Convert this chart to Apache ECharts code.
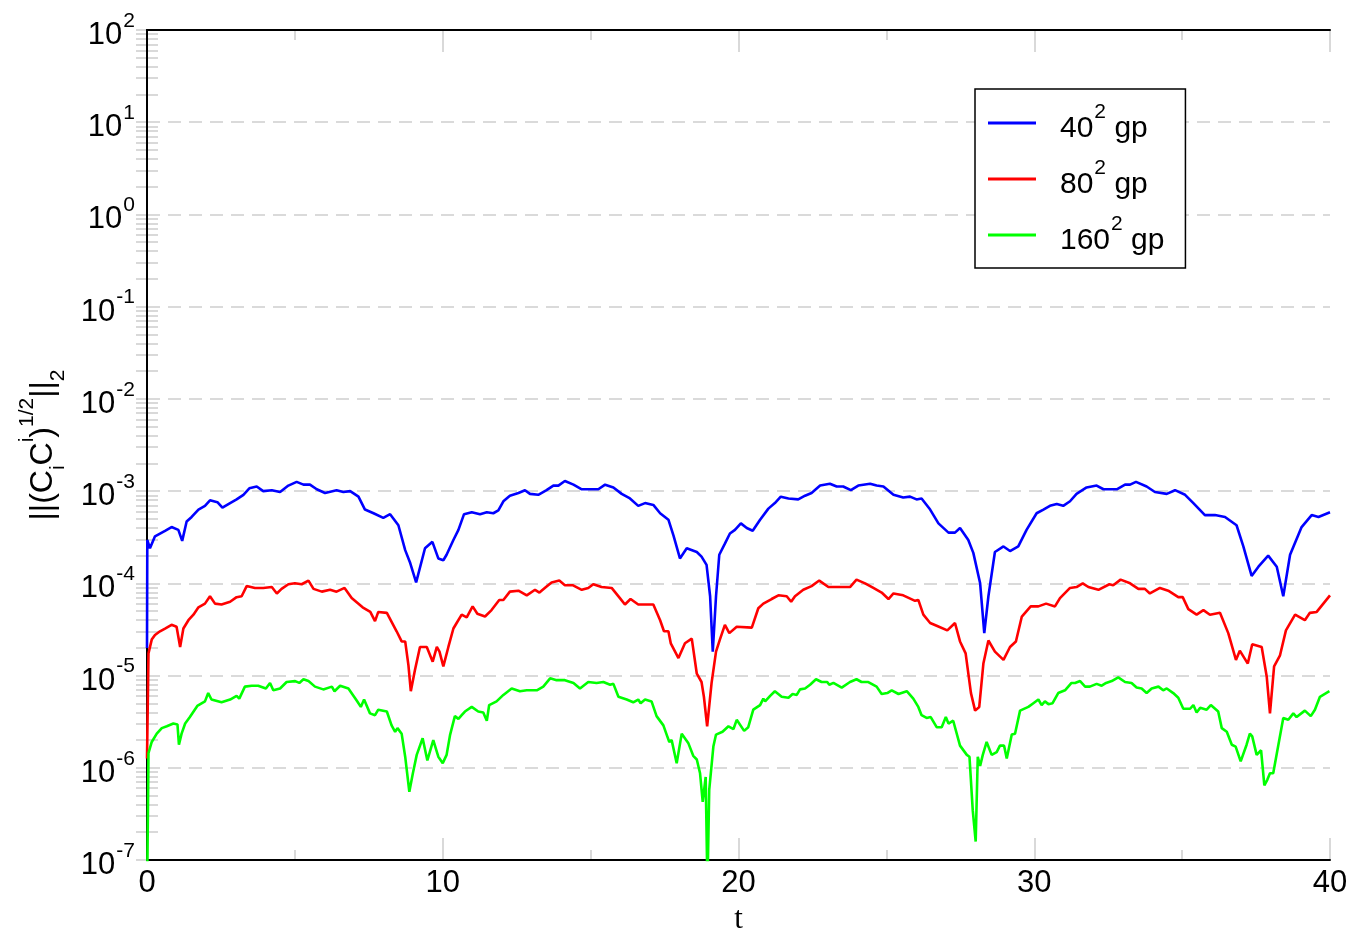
<!DOCTYPE html>
<html>
<head>
<meta charset="utf-8">
<script src="https://cdn.jsdelivr.net/npm/echarts@6/dist/echarts.min.js"></script>
<style>
html,body{margin:0;padding:0;background:#fff;}
#chart{width:1354px;height:928px;}
</style>
</head>
<body>
<div id="chart"></div>
<script>
// ---- data (t values and log10 of the norm) ----
const tBlue = [0,0.01,0.1,0.27,0.44,0.61,0.83,1.06,1.19,1.34,1.51,1.74,1.96,2.13,2.38,2.55,2.81,3.03,3.26,3.46,3.71,3.93,4.22,4.50,4.78,5.06,5.29,5.51,5.74,6.02,6.41,6.64,6.87,7.15,7.37,7.66,7.99,8.22,8.50,8.73,8.90,9.10,9.40,9.65,9.85,10.02,
10.13,10.36,10.53,10.72,10.98,11.26,11.49,11.71,11.88,12.05,12.27,12.56,12.78,12.95,13.23,13.51,13.74,13.91,14.13,14.42,14.70,14.98,15.26,15.49,15.77,16.05,16.33,16.61,16.84,17.12,17.35,17.63,17.80,18.02,18.25,18.59,18.75,18.92,19.04,19.13,19.24,19.35,19.54,19.71,19.88,20.08,20.28,20.48,20.73,
21.01,21.23,21.43,21.69,22.02,22.25,22.47,22.76,23.09,23.32,23.54,23.80,24.05,24.45,24.67,24.90,25.24,25.57,25.80,26.02,26.19,26.48,26.76,27.10,27.32,27.49,27.77,27.94,28.17,28.31,28.45,28.67,28.96,29.18,29.46,29.74,
30.08,30.31,30.53,30.76,30.98,31.21,31.43,31.77,32.11,32.34,32.79,33.07,33.24,33.44,33.80,34.08,34.48,34.76,35.10,35.38,35.77,36.11,36.45,36.84,37.07,37.35,37.58,37.91,38.20,38.42,38.65,39.04,39.38,39.61,40.00];
const blueExp = [-4.70,-3.53,-3.62,-3.49,-3.46,-3.43,-3.39,-3.42,-3.54,-3.33,-3.28,-3.20,-3.16,-3.10,-3.12,-3.18,-3.13,-3.09,-3.04,-2.97,-2.95,-3.00,-2.99,-3.01,-2.94,-2.90,-2.93,-2.93,-2.98,-3.02,-2.99,-3.01,-3.00,-3.06,-3.20,-3.24,-3.29,-3.25,-3.37,-3.64,-3.78,-3.99,-3.62,-3.55,-3.73,-3.75,
-3.69,-3.53,-3.42,-3.25,-3.23,-3.25,-3.23,-3.24,-3.21,-3.11,-3.05,-3.02,-2.99,-3.03,-3.04,-2.99,-2.94,-2.94,-2.89,-2.93,-2.98,-2.98,-2.98,-2.93,-2.96,-3.03,-3.08,-3.16,-3.13,-3.15,-3.24,-3.31,-3.48,-3.73,-3.62,-3.66,-3.71,-3.80,-4.14,-4.74,-4.14,-3.69,-3.57,-3.46,-3.42,-3.35,-3.40,-3.43,-3.31,
-3.19,-3.13,-3.06,-3.08,-3.09,-3.05,-3.02,-2.94,-2.92,-2.95,-2.95,-2.99,-2.94,-2.92,-2.94,-2.95,-3.04,-3.07,-3.06,-3.09,-3.08,-3.20,-3.35,-3.45,-3.45,-3.40,-3.53,-3.67,-4.00,-4.54,-4.14,-3.66,-3.60,-3.65,-3.60,-3.42,
-3.24,-3.20,-3.16,-3.14,-3.16,-3.11,-3.03,-2.96,-2.94,-2.98,-2.98,-2.93,-2.93,-2.90,-2.95,-3.01,-3.03,-2.99,-3.04,-3.13,-3.26,-3.26,-3.28,-3.37,-3.60,-3.92,-3.82,-3.70,-3.82,-4.14,-3.69,-3.39,-3.26,-3.28,-3.23];

const tRed = [0,0.05,0.16,0.27,0.44,0.61,0.83,1.00,1.12,1.23,1.40,1.57,1.74,1.96,2.13,2.30,2.52,2.81,3.03,3.20,3.37,3.65,3.93,4.22,4.39,4.55,4.78,5.00,5.23,5.46,5.63,5.91,6.19,6.41,6.68,6.92,7.29,7.55,7.71,7.82,8.11,8.44,8.61,8.73,8.84,8.92,9.06,9.23,9.46,9.66,9.80,9.89,10.02,10.19,10.36,10.47,10.64,10.81,11.01,11.17,11.43,11.65,11.91,12.05,12.27,12.56,12.84,13.12,13.27,13.49,13.68,13.94,14.13,14.39,14.70,14.92,15.09,15.37,15.71,15.99,16.16,16.35,16.61,17.12,17.35,17.48,17.63,17.71,17.97,18.19,18.42,18.59,18.75,18.83,18.94,19.09,19.24,19.37,19.54,19.69,19.94,20.45,20.67,20.84,21.12,21.35,21.63,21.78,21.91,22.19,22.47,22.73,23.04,23.43,23.77,23.99,24.28,24.56,24.84,25.07,25.24,25.57,25.97,26.08,26.25,26.48,26.70,27.06,27.32,27.49,27.68,27.86,28.00,28.14,28.28,28.45,28.67,28.96,29.18,29.38,29.58,29.88,30.14,30.40,30.70,30.87,31.21,31.43,31.64,31.83,32.17,32.54,32.67,32.92,33.24,33.52,33.74,33.91,34.25,34.53,34.87,35.02,35.21,35.49,35.72,35.94,36.28,36.56,36.82,36.95,37.22,37.37,37.69,37.86,37.97,38.11,38.31,38.51,38.82,39.15,39.32,39.55,40.00];
const redExp = [-5.90,-4.76,-4.61,-4.56,-4.52,-4.49,-4.45,-4.47,-4.69,-4.49,-4.40,-4.34,-4.26,-4.22,-4.14,-4.22,-4.23,-4.20,-4.15,-4.14,-4.03,-4.05,-4.05,-4.04,-4.11,-4.06,-4.01,-4.00,-4.01,-3.97,-4.06,-4.09,-4.07,-4.09,-4.05,-4.16,-4.26,-4.31,-4.41,-4.31,-4.32,-4.52,-4.63,-4.63,-4.89,-5.17,-4.94,-4.69,-4.69,-4.85,-4.69,-4.74,-4.90,-4.69,-4.49,-4.43,-4.34,-4.37,-4.25,-4.33,-4.36,-4.29,-4.18,-4.18,-4.09,-4.08,-4.13,-4.07,-4.10,-4.04,-3.99,-3.97,-4.02,-4.02,-4.07,-4.05,-4.01,-4.04,-4.05,-4.16,-4.23,-4.17,-4.23,-4.23,-4.40,-4.52,-4.52,-4.65,-4.81,-4.65,-4.60,-4.98,-5.07,-5.23,-5.55,-5.08,-4.74,-4.61,-4.45,-4.54,-4.47,-4.48,-4.27,-4.22,-4.17,-4.13,-4.14,-4.20,-4.14,-4.07,-4.03,-3.97,-4.04,-4.04,-4.04,-3.96,-4.00,-4.05,-4.10,-4.17,-4.11,-4.13,-4.19,-4.18,-4.34,-4.43,-4.46,-4.51,-4.43,-4.63,-4.76,-5.19,-5.38,-5.34,-4.87,-4.62,-4.74,-4.83,-4.69,-4.63,-4.36,-4.25,-4.25,-4.22,-4.25,-4.16,-4.05,-4.04,-4.00,-4.04,-4.07,-4.01,-4.02,-3.96,-4.00,-4.06,-4.06,-4.11,-4.05,-4.08,-4.15,-4.15,-4.28,-4.34,-4.29,-4.34,-4.32,-4.54,-4.83,-4.73,-4.87,-4.66,-4.69,-5.01,-5.41,-4.90,-4.78,-4.51,-4.34,-4.40,-4.32,-4.31,-4.13];

const tGreen = [0,0.05,0.16,0.33,0.50,0.67,0.89,1.03,1.08,1.17,1.29,1.45,1.70,1.96,2.07,2.18,2.52,2.81,3.03,3.12,3.31,3.54,3.76,4.02,4.16,4.27,4.50,4.72,5.01,5.15,5.29,5.46,5.68,5.96,6.25,6.34,6.53,6.81,7.09,7.23,7.34,7.54,7.71,7.82,8.11,8.27,8.39,8.47,8.61,8.73,8.87,8.99,9.12,9.32,9.48,9.68,9.85,10.00,10.13,10.25,10.41,10.53,10.64,10.75,10.98,11.20,11.37,11.49,11.57,11.82,12.05,12.33,12.61,12.84,13.18,13.40,13.63,13.85,14.13,14.42,14.64,14.92,15.20,15.43,15.66,15.77,15.94,16.22,16.44,16.61,16.69,16.84,17.06,17.23,17.46,17.57,17.66,17.74,17.91,18.08,18.30,18.47,18.59,18.70,18.79,18.89,18.95,19.01,19.15,19.24,19.46,19.66,19.83,19.94,20.19,20.33,20.50,20.73,20.84,20.90,21.07,21.23,21.46,21.69,21.83,21.97,22.08,22.25,22.42,22.62,22.81,23.00,23.07,23.21,23.49,23.77,23.99,24.16,24.39,24.67,24.84,25.03,25.18,25.41,25.69,25.91,26.08,26.19,26.36,26.50,26.70,26.87,27.01,27.10,27.26,27.49,27.72,27.81,27.92,28.02,28.09,28.17,28.26,28.39,28.56,28.73,28.84,28.98,29.07,29.24,29.35,29.52,29.80,29.97,30.14,30.25,30.36,30.48,30.62,30.81,31.04,31.26,31.38,31.55,31.72,31.88,32.11,32.28,32.43,32.62,32.84,33.07,33.29,33.46,33.63,33.80,33.97,34.20,34.36,34.48,34.70,34.87,35.04,35.27,35.38,35.49,35.61,35.83,35.97,36.22,36.34,36.51,36.68,36.81,36.98,37.18,37.29,37.37,37.52,37.67,37.78,37.88,37.97,38.08,38.42,38.59,38.76,38.87,39.15,39.35,39.49,39.66,39.98];
const greenExp = [-7.50,-5.84,-5.72,-5.63,-5.57,-5.55,-5.52,-5.53,-5.75,-5.63,-5.52,-5.45,-5.33,-5.28,-5.19,-5.26,-5.29,-5.26,-5.22,-5.25,-5.12,-5.11,-5.11,-5.14,-5.08,-5.16,-5.14,-5.07,-5.06,-5.08,-5.04,-5.06,-5.12,-5.15,-5.12,-5.17,-5.11,-5.14,-5.27,-5.34,-5.26,-5.41,-5.43,-5.37,-5.39,-5.54,-5.61,-5.57,-5.63,-5.88,-6.26,-6.06,-5.86,-5.68,-5.92,-5.70,-5.88,-5.95,-5.86,-5.64,-5.44,-5.47,-5.43,-5.39,-5.34,-5.39,-5.40,-5.49,-5.32,-5.28,-5.21,-5.14,-5.17,-5.16,-5.16,-5.12,-5.03,-5.05,-5.05,-5.08,-5.14,-5.07,-5.08,-5.07,-5.10,-5.09,-5.23,-5.26,-5.29,-5.26,-5.30,-5.26,-5.28,-5.44,-5.54,-5.64,-5.72,-5.70,-5.95,-5.63,-5.73,-5.87,-5.91,-6.06,-6.37,-6.10,-7.30,-6.24,-5.77,-5.64,-5.61,-5.55,-5.58,-5.48,-5.60,-5.56,-5.37,-5.32,-5.25,-5.28,-5.22,-5.17,-5.23,-5.24,-5.20,-5.21,-5.15,-5.14,-5.10,-5.04,-5.07,-5.07,-5.10,-5.08,-5.13,-5.07,-5.04,-5.07,-5.07,-5.12,-5.20,-5.19,-5.16,-5.20,-5.17,-5.25,-5.34,-5.43,-5.46,-5.45,-5.56,-5.56,-5.45,-5.52,-5.49,-5.76,-5.86,-5.88,-6.46,-6.80,-5.88,-5.98,-5.86,-5.72,-5.86,-5.83,-5.76,-5.76,-5.90,-5.64,-5.63,-5.38,-5.34,-5.30,-5.26,-5.32,-5.28,-5.31,-5.30,-5.19,-5.16,-5.08,-5.08,-5.06,-5.12,-5.12,-5.09,-5.11,-5.08,-5.06,-5.02,-5.07,-5.08,-5.13,-5.14,-5.19,-5.14,-5.12,-5.16,-5.14,-5.19,-5.24,-5.36,-5.36,-5.32,-5.40,-5.35,-5.37,-5.32,-5.39,-5.57,-5.61,-5.75,-5.77,-5.93,-5.75,-5.63,-5.66,-5.86,-5.81,-6.19,-6.13,-6.06,-6.06,-5.46,-5.48,-5.41,-5.45,-5.38,-5.44,-5.37,-5.23,-5.17];

const seriesNames = ['40', '80', '160'];
const seriesColors = ['#0000ff', '#ff0000', '#00ff00'];
const yDecades = [-7, -6, -5, -4, -3, -2, -1, 0, 1, 2];

// ---- build ----
function pairs(ts, es) { return ts.map((t, i) => [t, Math.pow(10, es[i])]); }
const allData = [pairs(tBlue, blueExp), pairs(tRed, redExp), pairs(tGreen, greenExp)];

const yTickValues = [];
yDecades.forEach(function (d) {
  for (let m = 1; m <= 9; m++) {
    const v = m * Math.pow(10, d);
    if (v <= 100.0000001) yTickValues.push(v);
  }
});

const SANS = '"Liberation Sans", Arial, sans-serif';
const tickGray = '#d9d9d9';
const frame = { show: true, lineStyle: { color: '#000', width: 2 } };

const chart = echarts.init(document.getElementById('chart'), null, { renderer: 'canvas' });

function xTickAxis(pos) {
  return {
    type: 'value', min: 0, max: 40, interval: 10, position: pos, z: 0,
    axisLine: { show: false },
    axisTick: { show: true, inside: true, length: 22, lineStyle: { color: tickGray, width: 2 } },
    minorTick: { show: true, splitNumber: 2, length: 10, lineStyle: { color: tickGray, width: 2 } },
    splitLine: { show: false },
    axisLabel: { show: false }
  };
}
function xFrameAxis(pos) {
  return {
    type: 'value', min: 0, max: 40, interval: 10, position: pos, z: 1,
    axisLine: frame, axisTick: { show: false }, splitLine: { show: false }, axisLabel: { show: false }
  };
}
function yTickAxis(pos) {
  return {
    type: 'log', logBase: 10, min: 1e-7, max: 100, position: pos, z: 0,
    axisLine: { show: false },
    axisLabel: { show: false },
    splitLine: { show: false },
    axisTick: { show: true, inside: true, length: 11, customValues: yTickValues,
      lineStyle: { color: tickGray, width: 2 } }
  };
}

chart.setOption({
  animation: false,
  backgroundColor: '#ffffff',
  grid: { left: 147, right: 24, top: 30, bottom: 68, show: false, containLabel: false, outerBoundsMode: 'none' },
  legend: {
    left: 975, top: 89, orient: 'vertical',
    backgroundColor: '#fff',
    borderColor: '#000', borderWidth: 1.5, borderRadius: 0,
    padding: [13, 21, 12, 13],
    itemWidth: 48, itemHeight: 3, itemGap: 14,
    icon: 'rect',
    data: seriesNames,
    formatter: function (name) { return '{n|' + name + '}{s|2}{g| gp}'; },
    textStyle: {
      rich: {
        n: { fontFamily: SANS, fontSize: 30, color: '#000', lineHeight: 32, padding: [12, 0, 0, 19] },
        s: { fontFamily: SANS, fontSize: 21, color: '#000', lineHeight: 21, padding: [0, 0, 21, 1] },
        g: { fontFamily: SANS, fontSize: 30, color: '#000', lineHeight: 32, padding: [12, 0, 0, 0] }
      }
    }
  },
  xAxis: [{
    type: 'value', min: 0, max: 40, interval: 10, position: 'bottom', z: 1,
    name: 't', nameLocation: 'middle', nameGap: 42,
    nameTextStyle: { fontFamily: '"Liberation Serif", "Times New Roman", serif', fontSize: 31, color: '#000' },
    axisLine: frame,
    axisTick: { show: false },
    splitLine: { show: false },
    axisLabel: { fontFamily: SANS, fontSize: 31, color: '#000', margin: 8 }
  }, xFrameAxis('top'), xTickAxis('bottom'), xTickAxis('top')],
  yAxis: [{
    type: 'log', logBase: 10, min: 1e-7, max: 100, position: 'left', z: 1,
    name: '{n|||(C}{sub|i}{n|C}{sup|i}{n|)}{sup|1/2}{n|||}{sub|2}',
    nameLocation: 'middle', nameGap: 77, nameRotate: 90,
    nameTextStyle: {
      color: '#000',
      rich: {
        n: { fontFamily: SANS, fontSize: 32, lineHeight: 32, color: '#000' },
        sup: { fontFamily: SANS, fontSize: 21, lineHeight: 21, padding: [0, 0, 32, 0], color: '#000' },
        sub: { fontFamily: SANS, fontSize: 21, lineHeight: 21, padding: [30, 0, 0, 0], color: '#000' }
      }
    },
    axisLine: frame,
    axisTick: { show: false },
    splitLine: { show: true, showMinLine: false, showMaxLine: false, lineStyle: { color: '#dadada', width: 2, type: [13, 8] } },
    axisLabel: {
      margin: 12,
      formatter: function (v) {
        const e = Math.round(Math.log10(v));
        return '{b|10}{e|' + e + '}';
      },
      rich: {
        b: { fontFamily: SANS, fontSize: 31, color: '#000', lineHeight: 32, padding: [11, 0, 0, 0] },
        e: { fontFamily: SANS, fontSize: 21, color: '#000', lineHeight: 21, padding: [0, 0, 18, 1] }
      }
    }
  }, yTickAxis('left'), yTickAxis('right'), {
    type: 'log', logBase: 10, min: 1e-7, max: 100, position: 'right', z: 1,
    axisLine: frame, axisTick: { show: false }, splitLine: { show: false }, axisLabel: { show: false }
  }],
  series: seriesNames.map(function (n, i) {
    return {
      name: n, type: 'line', xAxisIndex: 0, yAxisIndex: 0,
      data: allData[i], showSymbol: false, symbol: 'none', clip: true,
      lineStyle: { color: seriesColors[i], width: 2.6 },
      itemStyle: { color: seriesColors[i] },
      z: 3 + i
    };
  })
});
</script>
</body>
</html>
